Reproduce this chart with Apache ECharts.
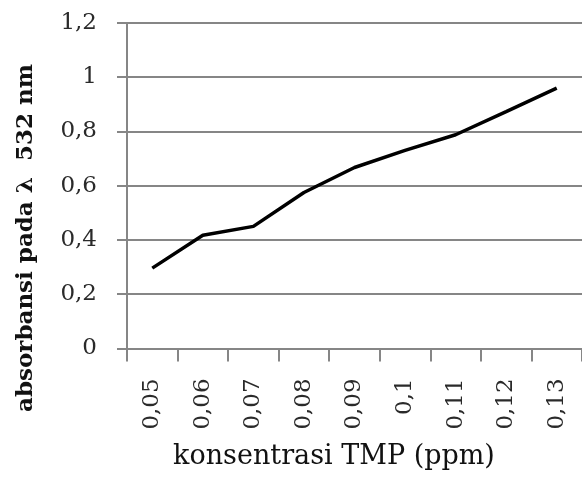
<!DOCTYPE html>
<html><head><meta charset="utf-8">
<script src="https://cdn.jsdelivr.net/npm/echarts@6/dist/echarts.min.js"></script>
<style>html,body{margin:0;padding:0;background:#fff}#c{width:582px;height:477px}</style>
</head><body><div id="c"></div>
<script>
var categories = ['0,05','0,06','0,07','0,08','0,09','0,1','0,11','0,12','0,13'];
var absorbance = [0.296, 0.417, 0.450, 0.575, 0.667, 0.730, 0.788, 0.873, 0.960];
var yTitle = 'absorbansi pada \u03bb  532 nm';
var xTitle = 'konsentrasi TMP (ppm)';

var chart = echarts.init(document.getElementById('c'), null, {renderer:'canvas'});
chart.setOption({
  animation:false,
  backgroundColor:'#fff',
  grid:{left:127, top:23, width:462, height:325.4},
  xAxis:{
    type:'category', data:categories, boundaryGap:true,
    axisLine:{lineStyle:{color:'#868686', width:2}},
    axisTick:{show:true, length:13, lineStyle:{color:'#868686', width:2}},
    axisLabel:{rotate:90, margin:30, color:'#2a2a2a', fontFamily:'DejaVu Serif', fontSize:23},
    splitLine:{show:false}
  },
  yAxis:{
    type:'value', min:0, max:1.2, interval:0.2,
    axisLine:{show:true, lineStyle:{color:'#868686', width:2}},
    axisTick:{show:true, length:10, lineStyle:{color:'#868686', width:2}},
    axisLabel:{margin:30, color:'#2a2a2a', fontFamily:'DejaVu Serif', fontSize:23,
      formatter:function(v){return (Math.round(v*10)/10).toString().replace('.',',');}},
    splitLine:{show:true, lineStyle:{color:'#868686', width:2}}
  },
  graphic:[
    {type:'text', x:334, y:457, style:{text:xTitle, fill:'#111', font:'27px "DejaVu Serif"', textAlign:'center', textVerticalAlign:'middle'}},
    {type:'text', x:26, y:238, rotation:Math.PI/2, style:{text:yTitle, fill:'#111', font:'bold 23px "DejaVu Serif"', textAlign:'center', textVerticalAlign:'middle'}}
  ],
  series:[{type:'line', data:absorbance, symbol:'none', lineStyle:{color:'#000', width:3.5}}]
});
</script></body></html>
